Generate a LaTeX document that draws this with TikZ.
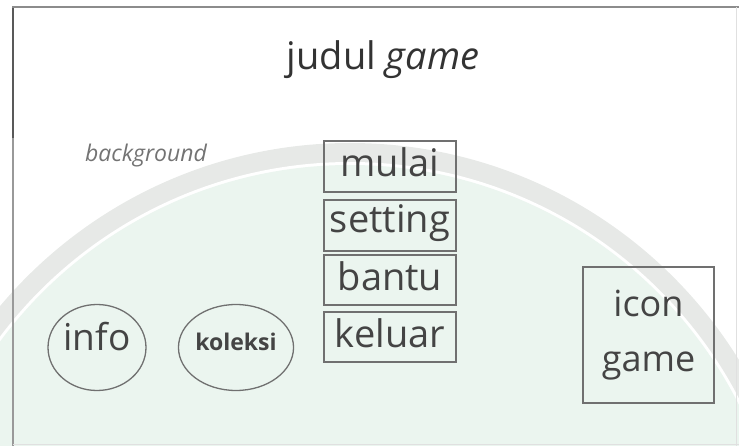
\documentclass[tikz,border=0pt]{standalone}
\usepackage{fontspec}
\setmainfont{Open Sans}
\usetikzlibrary{shapes.geometric}
\definecolor{wmgreen}{HTML}{EBF5EF}
\definecolor{bandgray}{HTML}{E7E9E7}
\definecolor{boxgray}{HTML}{707070}
\definecolor{txtgray}{HTML}{444444}
\begin{document}
\begin{tikzpicture}[x=1pt,y=-1pt,
  menubox/.style={draw=boxgray, line width=1.6pt, minimum width=132pt, inner sep=0pt,
    text=txtgray, font=\fontsize{38}{44}\selectfont, text height=21pt, text depth=0pt},
  oval/.style={ellipse, draw=boxgray, line width=1.3pt, inner sep=0pt, text=txtgray},
  frameline/.style={line width=2pt}]
\path[use as bounding box] (0,0) rectangle (739,446);
% watermark tint
\begin{scope}
\clip (0,0) rectangle (739,446);
\fill[bandgray] (350,600) circle (457pt);
\fill[white] (350,600) circle (438pt);
\fill[wmgreen] (350,600) circle (435pt);
\end{scope}
% frame
\draw[frameline, color=black!65] (13,7) -- (13,138);
\draw[frameline, color=black!40] (13,138) -- (13,446);
\draw[line width=1.5pt, color=black!45] (12,7) -- (739,7);
\draw[line width=1pt, color=black!12] (736,7) -- (736,446);
\draw[line width=1pt, color=black!12] (13,444) -- (739,444);
% title
\node[anchor=base, text=black!80, font=\fontsize{38}{44}\selectfont] (title) at (383,70) {judul \textit{game}};
\node[anchor=base, text=black!55, font=\fontsize{23}{28}\selectfont\itshape] (bg) at (146,162) {background};
% menu
\node[menubox, minimum height=51pt] (mulai) at (390,166.5) {mulai};
\node[menubox, minimum height=51pt, text height=15pt] (setting) at (390,225.5) {setting};
\node[menubox, minimum height=50pt] (bantu) at (390,280) {bantu};
\node[menubox, minimum height=50pt] (keluar) at (390,337) {keluar};
% ovals
\node[oval, minimum width=98pt, minimum height=86pt, font=\fontsize{37}{42}\selectfont, text height=16pt, text depth=10pt] (info) at (97,347.5) {info};
\node[oval, minimum width=102pt, minimum height=86pt, font=\fontsize{23}{28}\selectfont\bfseries, text height=13pt, text depth=7pt] (koleksi) at (236,347.5) {koleksi};
% icon
\node[draw=boxgray, line width=1.6pt, minimum width=131pt, minimum height=136pt, inner sep=0pt, align=center, text=txtgray, font=\fontsize{36}{55}\selectfont] (icon) at (648.5,335) {icon\\game};
\end{tikzpicture}
\end{document}
